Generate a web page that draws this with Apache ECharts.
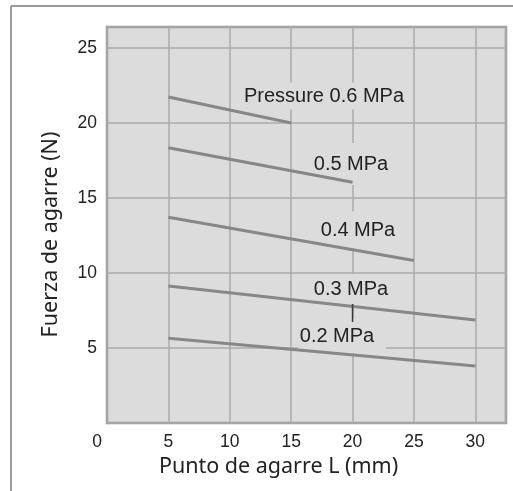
<!DOCTYPE html>
<html>
<head>
<meta charset="utf-8">
<script src="https://cdn.jsdelivr.net/npm/echarts@6/dist/echarts.min.js"></script>
<style>
html,body{margin:0;padding:0;background:#fff;}
#chart{width:513px;height:491px;}
</style>
</head>
<body>
<div id="chart"></div>
<script>
// Grip point L (mm) and grip force (N), one pair of end points per pressure
var pressureNames = ['0.6 MPa', '0.5 MPa', '0.4 MPa', '0.3 MPa', '0.2 MPa'];
var p06 = [[5, 21.73], [15, 20.0]];
var p05 = [[5, 18.35], [20, 16.05]];
var p04 = [[5, 13.71], [25, 10.84]];
var p03 = [[5, 9.14], [30, 6.87]];
var p02 = [[5, 5.65], [30, 3.80]];
var leader03 = [[20, 7.94], [20, 6.73]];
var xTickValues = [0, 5, 10, 15, 20, 25, 30];
var yTickValues = [5, 10, 15, 20, 25];
var labelTexts = ['Pressure 0.6 MPa', '0.5 MPa', '0.4 MPa', '0.3 MPa', '0.2 MPa'];
var xTitle = 'Punto de agarre L (mm)';
var yTitle = 'Fuerza de agarre (N)';

var chart = echarts.init(document.getElementById('chart'), null, {renderer: 'canvas'});

var lineColor = '#878787';
var seriesData = [p06, p05, p04, p03, p02];
var series = seriesData.map(function (d, i) {
  return {
    name: pressureNames[i],
    type: 'line',
    data: d,
    symbol: 'none',
    z: 3,
    lineStyle: {color: lineColor, width: 3},
    animation: false
  };
});
series.push({
  type: 'line',
  data: leader03,
  symbol: 'none',
  z: 4,
  lineStyle: {color: '#3a3a3a', width: 1.5},
  animation: false
});

function box(text, cx, cy, pad) {
  return {
    type: 'text',
    z: 1,
    x: cx, y: cy,
    style: {
      text: text,
      x: 0, y: 0,
      align: 'center',
      verticalAlign: 'middle',
      fontFamily: '"Liberation Sans", Arial, sans-serif',
      fontSize: 20,
      fill: '#222',
      backgroundColor: '#dcdcdc',
      padding: pad
    }
  };
}

var option = {
  backgroundColor: '#fff',
  animation: false,
  grid: {
    left: 107, top: 27, right: 7, bottom: 68,
    show: true,
    backgroundColor: '#dcdcdc',
    borderColor: '#959595',
    borderWidth: 2.5
  },
  xAxis: {
    type: 'value',
    min: 0, max: 32.5, interval: 5,
    axisLine: {show: false},
    axisTick: {show: false},
    splitLine: {show: true, lineStyle: {color: '#ababab', width: 1.5}},
    axisLabel: {
      margin: 10,
      fontFamily: '"Liberation Sans", Arial, sans-serif',
      fontSize: 17.5,
      color: '#222',
      showMaxLabel: false,
      formatter: function (v) {
        if (xTickValues.indexOf(v) < 0) return '';
        return v === 0 ? '{z|0}' : String(v);
      },
      rich: {
        z: {
          fontFamily: '"Liberation Sans", Arial, sans-serif',
          fontSize: 17.5, color: '#222',
          padding: [0, 20, 0, 0]
        }
      }
    }
  },
  yAxis: {
    type: 'value',
    min: 0, max: 26.4, interval: 5,
    axisLine: {show: false},
    axisTick: {show: false},
    splitLine: {show: true, lineStyle: {color: '#ababab', width: 1.5}},
    axisLabel: {
      margin: 10,
      fontFamily: '"Liberation Sans", Arial, sans-serif',
      fontSize: 17.5,
      color: '#222',
      showMinLabel: false,
      showMaxLabel: false,
      formatter: function (v) {
        return yTickValues.indexOf(v) < 0 ? '' : String(v);
      }
    }
  },
  graphic: [
    {type: 'line', z: 5, shape: {x1: 11, y1: 6, x2: 11, y2: 491}, style: {stroke: '#9a9a9a', lineWidth: 2}},
    {type: 'line', z: 5, shape: {x1: 11, y1: 6, x2: 513, y2: 6}, style: {stroke: '#9a9a9a', lineWidth: 2}},
    box(labelTexts[0], 324, 96, [3, 4, 4, 4]),
    box(labelTexts[1], 351, 164, [14, 4, 8, 4]),
    box(labelTexts[2], 358, 230, [7, 4, 10, 4]),
    box(labelTexts[3], 351, 289, [5, 4, 5, 4]),
    box(labelTexts[4], 342, 336, [4, 12, 11, 2]),
    {
      type: 'text', z: 5, x: 278.5, y: 467,
      style: {text: xTitle, x: 0, y: 0, align: 'center', verticalAlign: 'middle',
        fontFamily: '"Noto Sans", "Open Sans", sans-serif', fontSize: 21.5, fill: '#222'}
    },
    {
      type: 'text', z: 5, x: 51, y: 234.5, rotation: Math.PI / 2,
      style: {text: yTitle, x: 0, y: 0, align: 'center', verticalAlign: 'middle',
        fontFamily: '"Noto Sans", "Open Sans", sans-serif', fontSize: 21.5, fill: '#222'}
    }
  ],
  series: series
};
chart.setOption(option);
</script>
</body>
</html>
